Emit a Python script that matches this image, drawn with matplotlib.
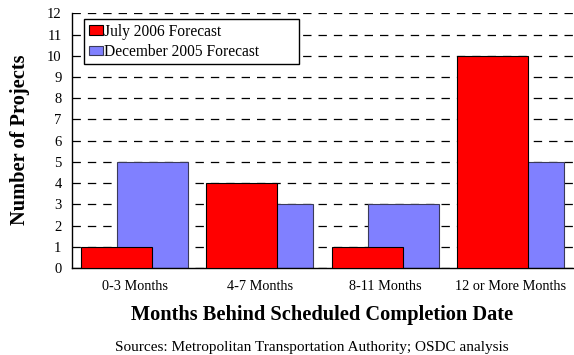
import numpy as np
import matplotlib
matplotlib.use("Agg")
import matplotlib.pyplot as plt

categories = ["0-3 Months", "4-7 Months", "8-11 Months", "12 or More Months"]
july_2006 = [1, 4, 1, 10]
dec_2005 = [5, 3, 3, 5]

plt.rcParams['font.family'] = ['Liberation Serif', 'DejaVu Serif']

fig = plt.figure(figsize=(5.74, 3.55), dpi=100)
ax = fig.add_axes([72 / 574, 1 - 268 / 355, (573 - 72) / 574, (268 - 13.3) / 355])

x = np.arange(len(categories))
w = 0.567
off = 0.144
ax.bar(x + off, dec_2005, width=w, color='#8080FF', edgecolor='#3a3a5a',
       linewidth=0.8, label='December 2005 Forecast', zorder=2)
ax.bar(x - off, july_2006, width=w, color='#FF0000', edgecolor='black',
       linewidth=0.8, label='July 2006 Forecast', zorder=3)

ax.set_xlim(-0.5, 3.5)
ax.set_ylim(0, 12)
ax.set_yticks(range(0, 13))
ax.set_xticks(x)
ax.set_xticklabels(categories, fontsize=10.3)
ax.tick_params(axis='x', length=0, pad=9)
ax.tick_params(axis='y', labelsize=10.5, length=0, pad=7.5)
ax.yaxis.grid(True, linestyle=(0, (6.7, 5.6)), color='black', linewidth=0.9, zorder=1)
ax.set_axisbelow(True)
for s in ['top', 'right']:
    ax.spines[s].set_visible(False)
ax.spines['left'].set_linewidth(1.0)
ax.spines['bottom'].set_linewidth(1.0)

ax.set_xlabel('Months Behind Scheduled Completion Date', fontsize=14.7,
              fontweight='bold', labelpad=8)
ax.set_ylabel('Number of Projects', fontsize=14.7, fontweight='bold')
ax.yaxis.set_label_coords(30 / 574, 1 - 140 / 355, transform=fig.transFigure)

handles, labels = ax.get_legend_handles_labels()
leg = ax.legend(handles[::-1], labels[::-1], loc='upper left',
                bbox_to_anchor=(84.3 / 574, 1 - 64.3 / 355, 215 / 574, 45 / 355),
                bbox_transform=fig.transFigure, mode='expand',
                fontsize=11.2, frameon=True, fancybox=False, framealpha=1,
                edgecolor='black', handlelength=0.9, handleheight=0.58,
                handletextpad=0.08, borderpad=0.28, labelspacing=0.28,
                borderaxespad=0)
leg.get_frame().set_linewidth(1.0)
leg.set_zorder(5)

fig.text(311.7 / 574, 1 - 347 / 355,
         'Sources: Metropolitan Transportation Authority; OSDC analysis',
         ha='center', va='center', fontsize=11)

fig.savefig('out.png', dpi=100)
